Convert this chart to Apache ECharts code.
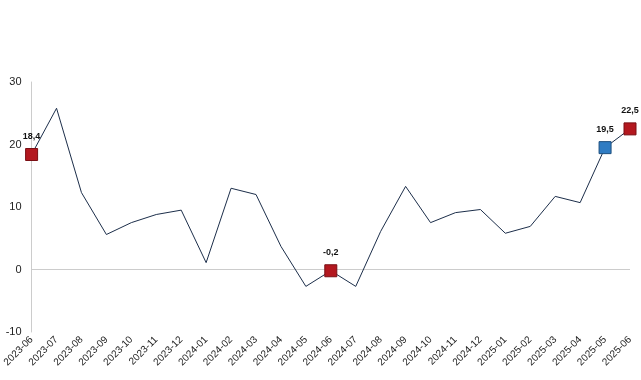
<!DOCTYPE html>
<html><head><meta charset="utf-8">
<script src="https://cdn.jsdelivr.net/npm/echarts@6/dist/echarts.min.js"></script>
<style>html,body{margin:0;padding:0;background:#fff}#c{width:641px;height:380px}</style>
</head><body><div id="c"></div>
<script>
const categories = ["2023-06","2023-07","2023-08","2023-09","2023-10","2023-11","2023-12","2024-01","2024-02","2024-03","2024-04","2024-05","2024-06","2024-07","2024-08","2024-09","2024-10","2024-11","2024-12","2025-01","2025-02","2025-03","2025-04","2025-05","2025-06"];
const values = [18.4,25.8,12.3,5.6,7.5,8.8,9.5,1.1,13.0,12.0,3.7,-2.7,-0.2,-2.7,6.1,13.3,7.5,9.1,9.6,5.8,6.9,11.7,10.7,19.5,22.5];
const redPoints = ["2023-06","2024-06","2025-06"];
const bluePoints = ["2025-05"];

const data = values.map((v, i) => {
  const c = categories[i];
  const isRed = redPoints.includes(c), isBlue = bluePoints.includes(c);
  if (!isRed && !isBlue) return { value: v, symbolSize: 0 };
  return {
    value: v,
    symbol: 'rect',
    symbolSize: 12,
    itemStyle: isRed ? { color: '#b3181f', borderColor: '#7a0f14', borderWidth: 1 }
                     : { color: '#2f7cc3', borderColor: '#1d4f7e', borderWidth: 1 },
    label: { show: true, position: 'top', distance: 7,
      formatter: p => String(p.value).replace('.', ','),
      fontSize: 9, fontWeight: 'bold', color: '#111', fontFamily: 'Arial, Liberation Sans' }
  };
});

const chart = echarts.init(document.getElementById('c'), null, { renderer: 'canvas' });
chart.setOption({
  animation: false,
  grid: { left: 30, right: 11, top: 82, bottom: 48, containLabel: false },
  xAxis: {
    type: 'category', data: categories, boundaryGap: false,
    axisLine: { show: false, onZero: false }, axisTick: { show: false },
    position: 'bottom',
    axisLabel: { rotate: 45, fontSize: 10, color: '#222', margin: 6, interval: 0, fontFamily: 'Arial, Liberation Sans' }
  },
  yAxis: {
    type: 'value', min: -10, max: 30, interval: 10,
    axisLine: { show: true, lineStyle: { color: '#cccccc', width: 1 } },
    axisTick: { show: false },
    splitLine: { show: false },
    axisLabel: { fontSize: 11, color: '#222', margin: 10, fontFamily: 'Arial, Liberation Sans' }
  },
  series: [{
    type: 'line', data: [], z: 1, silent: true,
    markLine: {
      z: 1, silent: true, symbol: 'none', label: { show: false },
      lineStyle: { color: '#cccccc', width: 1, type: 'solid' },
      data: [{ yAxis: 0 }]
    }
  }, {
    type: 'line', data: data, symbol: 'rect', symbolSize: 0, showAllSymbol: true,
    lineStyle: { color: '#1c2e4a', width: 1 },
    itemStyle: { color: '#1c2e4a' },
    z: 3
  }]
});
</script></body></html>
